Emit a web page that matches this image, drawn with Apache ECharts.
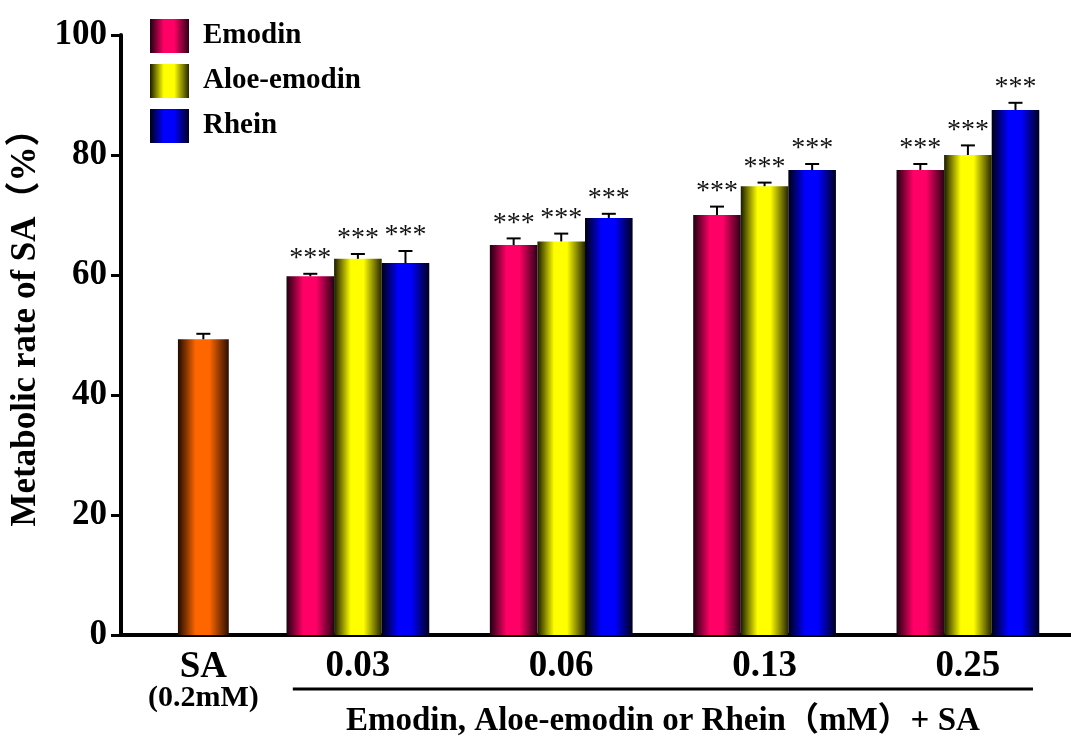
<!DOCTYPE html>
<html>
<head>
<meta charset="utf-8">
<script src="https://cdn.jsdelivr.net/npm/echarts@6/dist/echarts.min.js"></script>
<style>
  html, body { margin: 0; padding: 0; background: #fff; }
  #chart { width: 1071px; height: 738px; }
</style>
</head>
<body>
<div id="chart"></div>
<script>
// Metabolic rate of SA alone and with increasing anthraquinone doses
const doseLabels = ['0.03', '0.06', '0.13', '0.25'];
const groupPos = [1, 2, 3, 4];           // x position of each dose group
const saLabel = 'SA';
const saSubLabel = '(0.2mM)';
const saPos = 0.24;                       // x position of the SA-only bar
const saValue = 49.3;
const saErr = 0.9;

const emodin = [59.8, 65.0, 70.0, 77.5];
const emodinErr = [0.4, 1.1, 1.4, 1.0];
const aloeEmodin = [62.7, 65.6, 74.8, 80.0];
const aloeEmodinErr = [0.8, 1.3, 0.6, 1.6];
const rhein = [62.0, 69.5, 77.5, 87.5];
const rheinErr = [2.0, 0.7, 1.0, 1.2];
const significance = '***';

const yTicks = { min: 0, max: 100, interval: 20 };
const xTitle = 'Emodin, Aloe-emodin or Rhein（mM）+ SA';
const yTitle = 'Metabolic rate of SA（%）';

const FONT = "'Liberation Serif', 'Times New Roman', 'Noto Sans CJK SC', serif";
const BAR_W = 0.234;     // bar width in x units
const SA_BAR_W = 0.25;

function shade(dark, mid, darkR) {
  return new echarts.graphic.LinearGradient(0, 0, 1, 0, [
    { offset: 0, color: dark },
    { offset: 0.35, color: mid },
    { offset: 0.62, color: mid },
    { offset: 1, color: darkR }
  ]);
}
const colors = {
  sa: shade('#1e0a00', '#ff6600', '#2a0e00'),
  emodin: shade('#1e0010', '#ff0066', '#2a0016'),
  aloe: shade('#1a1a00', '#ffff00', '#262600'),
  rhein: shade('#000012', '#0000ff', '#00001c')
};

function barRender(width) {
  return function (params, api) {
    const x = api.value(0), v = api.value(1), e = api.value(2), sig = api.value(3);
    const top = api.coord([x, v]);
    const base = api.coord([x, 0]);
    const errTop = api.coord([x, v + e]);
    const w = api.size([width, 0])[0];
    const children = [
      {
        type: 'rect',
        shape: { x: top[0] - w / 2, y: top[1], width: w, height: base[1] - top[1] },
        style: { fill: api.visual('color') }
      },
      {
        type: 'line',
        shape: { x1: top[0], y1: top[1], x2: errTop[0], y2: errTop[1] },
        style: { stroke: '#000', lineWidth: 2 }
      },
      {
        type: 'line',
        shape: { x1: errTop[0] - 7, y1: errTop[1], x2: errTop[0] + 7, y2: errTop[1] },
        style: { stroke: '#000', lineWidth: 2 }
      }
    ];
    if (sig) {
      children.push({
        type: 'text',
        style: {
          text: significance, x: errTop[0], y: errTop[1] - 15,
          align: 'center', verticalAlign: 'middle',
          font: "28px 'Liberation Serif', serif", fill: '#111'
        }
      });
    }
    return { type: 'group', children: children };
  };
}

function groupData(values, errs, slot) {
  return values.map((v, i) => [groupPos[i] + slot * BAR_W, v, errs[i], 1]);
}

// Category labels, bracket line and axis title drawn under the x axis
function labelRender(params, api) {
  const children = [];
  const fs = 37;
  const saPt = api.coord([saPos, 0]);
  children.push({
    type: 'text',
    style: { text: saLabel, x: saPt[0], y: saPt[1] + 32, align: 'center', verticalAlign: 'middle',
      font: 'bold ' + fs + 'px ' + FONT, fill: '#000' }
  });
  children.push({
    type: 'text',
    style: { text: saSubLabel, x: saPt[0], y: saPt[1] + 63, align: 'center', verticalAlign: 'middle',
      font: 'bold 30px ' + FONT, fill: '#000' }
  });
  groupPos.forEach((g, i) => {
    const p = api.coord([g, 0]);
    children.push({
      type: 'text',
      style: { text: doseLabels[i], x: p[0], y: p[1] + 31, align: 'center', verticalAlign: 'middle',
        font: 'bold ' + fs + 'px ' + FONT, fill: '#000' }
    });
  });
  const l = api.coord([groupPos[0] - 0.32, 0]);
  const r = api.coord([groupPos[groupPos.length - 1] + 0.32, 0]);
  children.push({
    type: 'line',
    shape: { x1: l[0], y1: l[1] + 54, x2: r[0], y2: r[1] + 54 },
    style: { stroke: '#000', lineWidth: 3 }
  });
  const mid = api.coord([(groupPos[0] + groupPos[groupPos.length - 1]) / 2, 0]);
  children.push({
    type: 'text',
    style: { text: xTitle, x: mid[0], y: mid[1] + 86, align: 'center', verticalAlign: 'middle',
      font: 'bold 33px ' + FONT, fill: '#000' }
  });
  return { type: 'group', children: children };
}

const chart = echarts.init(document.getElementById('chart'), null, { renderer: 'canvas' });
chart.setOption({
  backgroundColor: '#fff',
  animation: false,
  grid: { left: 121, right: 0, top: 35, bottom: 103, containLabel: false },
  legend: {
    data: ['Emodin', 'Aloe-emodin', 'Rhein'],
    orient: 'vertical',
    left: 150,
    top: 19,
    padding: 0,
    itemWidth: 39,
    itemHeight: 34,
    itemGap: 11,
    icon: 'rect',
    textStyle: { fontFamily: FONT, fontWeight: 'bold', fontSize: 29, color: '#000', padding: [0, 0, 0, 9] }
  },
  xAxis: {
    type: 'value',
    min: -0.165,
    max: 4.507,
    axisLine: { show: true, onZero: false, lineStyle: { color: '#000', width: 4 } },
    axisTick: { show: false },
    axisLabel: { show: false },
    splitLine: { show: false }
  },
  yAxis: {
    type: 'value',
    min: yTicks.min,
    max: yTicks.max,
    interval: yTicks.interval,
    name: yTitle,
    nameLocation: 'middle',
    nameRotate: 90,
    nameGap: 74,
    nameTextStyle: { fontFamily: FONT, fontWeight: 'bold', fontSize: 35, color: '#000', padding: [0, 0, 0, 32] },
    axisLine: { show: true, onZero: false, lineStyle: { color: '#000', width: 4 } },
    axisTick: { show: true, inside: false, length: 10, lineStyle: { color: '#000', width: 3 } },
    axisLabel: { fontFamily: FONT, fontWeight: 'bold', fontSize: 35, color: '#000', margin: 14 },
    splitLine: { show: false }
  },
  series: [
    {
      name: 'SA', type: 'custom', renderItem: barRender(SA_BAR_W),
      itemStyle: { color: colors.sa },
      data: [[saPos, saValue, saErr, 0]], clip: false
    },
    {
      name: 'Emodin', type: 'custom', renderItem: barRender(BAR_W),
      itemStyle: { color: colors.emodin },
      data: groupData(emodin, emodinErr, -1), clip: false
    },
    {
      name: 'Aloe-emodin', type: 'custom', renderItem: barRender(BAR_W),
      itemStyle: { color: colors.aloe },
      data: groupData(aloeEmodin, aloeEmodinErr, 0), clip: false
    },
    {
      name: 'Rhein', type: 'custom', renderItem: barRender(BAR_W),
      itemStyle: { color: colors.rhein },
      data: groupData(rhein, rheinErr, 1), clip: false
    },
    {
      name: 'labels', type: 'custom', renderItem: labelRender,
      data: [[0, 0]], clip: false, silent: true, z: 5
    }
  ]
});
</script>
</body>
</html>
